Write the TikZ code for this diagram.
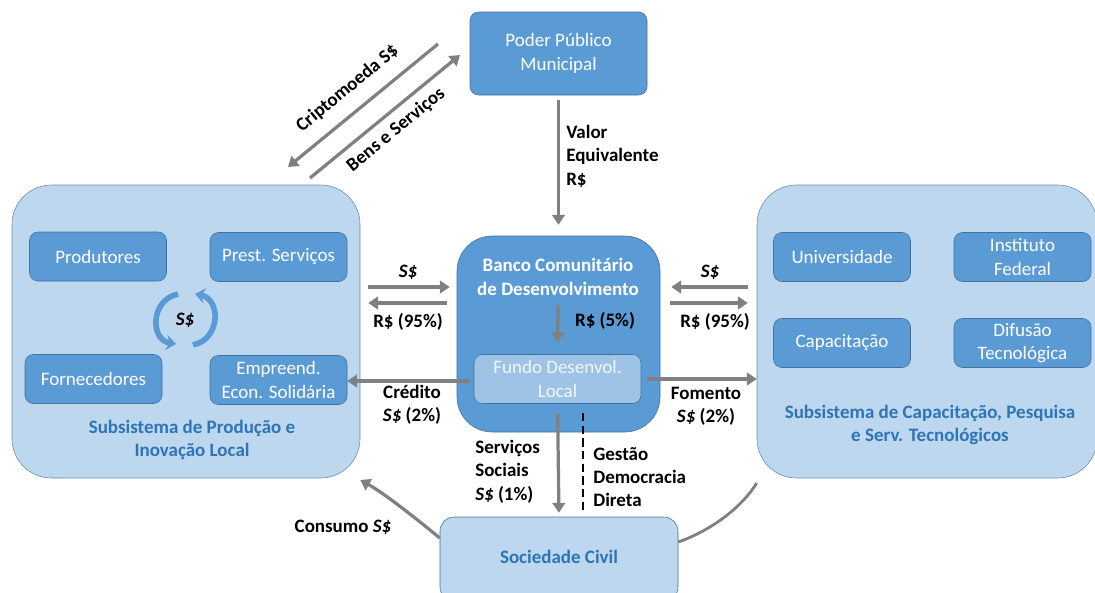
\documentclass[tikz,border=0pt]{standalone}
\usepackage{fontspec}
\setmainfont{Carlito}
\usetikzlibrary{arrows.meta,positioning}
\definecolor{dkblue}{HTML}{5B9BD5}
\definecolor{edgeblue}{HTML}{41719C}
\definecolor{ltblue}{HTML}{BDD7EE}
\definecolor{midblue}{HTML}{9DC3E6}
\definecolor{paletext}{HTML}{F2F7FC}
\definecolor{titleblue}{HTML}{2E75B6}
\definecolor{arrgray}{HTML}{808080}
\begin{document}
\begin{tikzpicture}[x=0.025cm,y=-0.025cm]
% one pixel of the reference
\def\px{0.025cm}
\def\fs{\fontsize{13.5}{16.5}\selectfont}
% node style definition
\tikzstyle{unit} = [
	draw=edgeblue, fill=dkblue, rounded corners=6pt, text=white,
	align=center, font=\fs, minimum width=137*\px, minimum height=49*\px ];
\tikzstyle{subsys} = [
	draw=edgeblue!80, fill=ltblue, rounded corners=28pt,
	minimum width=348*\px, minimum height=293*\px ];
\tikzstyle{title} = [align=center, text=titleblue, font=\fs\bfseries];
\tikzstyle{lbl} = [align=left, font=\fs\bfseries, inner sep=0pt];
\tikzstyle{flow} = [draw=arrgray, line width=2.3pt,
	-{Triangle[length=7pt,width=9pt]}];
\tikzstyle{plain} = [draw=arrgray, line width=2pt];
\useasboundingbox (0,0) rectangle (1095,592);

% public power
\node[unit, minimum width=177*\px, minimum height=83*\px] (poder)
	at (558.5,53.5) {Poder Público\\Municipal};

% production subsystem
\node[subsys] (prodsys) at (186,331.5) {};
\node[unit] (produtores) at (98,256.5) {Produtores};
\node[unit] (prestserv) at (278.5,257) {Prest. Serviços};
\node[unit] (fornec) at (93.5,379) {Fornecedores};
\node[unit] (empreend) at (278.5,380) {Empreend.\\Econ. Solidária};
\node[title] (prodtitle) at (192,440) {Subsistema de Produção e\\Inovação Local};
\node[lbl] (cyc) at (185,320) {\itshape S\$};
\draw[dkblue, line width=4pt, -{Stealth[length=7pt,width=11pt]}]
	(178,294) .. controls (150,300) and (150,340) .. (176,344);
\draw[dkblue, line width=4pt, -{Stealth[length=7pt,width=11pt]}]
	(193,345) .. controls (221,339) and (221,299) .. (195,294);

% training subsystem
\node[subsys, minimum width=340*\px] (capsys) at (927,331.5) {};
\node[unit] (univ) at (842,257) {Universidade};
\node[unit] (ifed) at (1022.5,257) {Instituto\\Federal};
\node[unit] (capac) at (842,343) {Capacitação};
\node[unit] (difusao) at (1022.5,343) {Difusão\\Tecnológica};
\node[title] (captitle) at (930,425) {Subsistema de Capacitação, Pesquisa\\e Serv. Tecnológicos};

% community bank
\node[draw=edgeblue, fill=dkblue, rounded corners=25pt,
	minimum width=203*\px, minimum height=196*\px] (banco) at (558.5,334) {};
\node[title, text=white] (bancotitle) at (558,277) {Banco Comunitário\\de Desenvolvimento};
\node[unit, fill=midblue, text=paletext, minimum width=167*\px] (fundo)
	at (557.5,379) {Fundo Desenvol.\\Local};

% civil society
\node[draw=edgeblue, fill=ltblue, rounded corners=10pt,
	minimum width=238*\px, minimum height=84*\px] (sociedade) at (559,559) {};
\node[title] (soctitle) at (559,557) {Sociedade Civil};

% free ends
\coordinate (cripA) at (438,44);
\coordinate (cripB) at (288,167);
\coordinate (bensA) at (310,178);
\coordinate (bensB) at (460,55);
\coordinate (cincoA) at (558,305);
\coordinate (gestA) at (583,413);
\coordinate (gestB) at (583,512);

% connectors
\draw[flow] (cripA) -- (cripB);
\draw[flow] (bensA) -- (bensB);
\draw[flow, shorten <=5*\px, shorten >=11*\px] (poder.south) -- (banco.north);
\draw[flow, shorten <=8*\px, shorten >=7*\px] (prodsys.east |- 0,287) -- (banco.west |- 0,287);
\draw[flow, shorten <=10*\px, shorten >=8*\px] (banco.west |- 0,303) -- (prodsys.east |- 0,303);
\draw[flow, shorten <=9*\px, shorten >=11*\px] (capsys.west |- 0,287) -- (banco.east |- 0,287);
\draw[flow, shorten <=10*\px, shorten >=9*\px] (banco.east |- 0,303) -- (capsys.west |- 0,303);
\draw[flow, shorten >=12*\px] (cincoA) -- (fundo.north);
\draw[flow, shorten <=4*\px] (fundo.west |- 0,381) -- (empreend.east |- 0,381);
\draw[flow, shorten <=6*\px] (fundo.east |- 0,379) -- (capsys.west |- 0,379);
\draw[flow, shorten <=10*\px, shorten >=4*\px] (fundo.south) -- (sociedade.north);
\draw[black, line width=1.8pt, dash pattern=on 6pt off 3pt] (gestA) -- (gestB);
\draw[flow] (sociedade.west |- 0,538) .. controls (412,515) and (382,492) .. (prodsys.south east |- 354,480);
\draw[plain] (sociedade.east |- 0,542) .. controls (712,530) and (742,507) .. (capsys.south west |- 768,483);

% labels
\node[lbl, rotate=39.4] (criplbl) at (347.5,88.5) {Criptomoeda S\$};
\node[lbl, rotate=39.4] (benslbl) at (396,130) {Bens e Serviços};
\node[lbl, anchor=north west] (valorlbl) at (566,125) {Valor\\Equivalente\\R\$};
\node[lbl] (sleft) at (408,272) {\itshape S\$};
\node[lbl] (rleft) at (408,322) {R\$ (95\%)};
\node[lbl] (sright) at (710,272) {\itshape S\$};
\node[lbl] (rright) at (715,322) {R\$ (95\%)};
\node[lbl] (cinco) at (605,321) {R\$ (5\%)};
\node[lbl, align=center] (credlbl) at (412,405) {Crédito\\{\itshape S\$} (2\%)};
\node[lbl, align=center] (fomlbl) at (706,406) {Fomento\\{\itshape S\$} (2\%)};
\node[lbl, anchor=north west] (servlbl) at (475,440) {Serviços\\Sociais\\{\itshape S\$} (1\%)};
\node[lbl, anchor=north west] (gestlbl) at (593,447) {Gestão\\Democracia\\Direta};
\node[lbl] (consumo) at (343,527) {Consumo {\itshape S\$}};
\end{tikzpicture}
\end{document}
